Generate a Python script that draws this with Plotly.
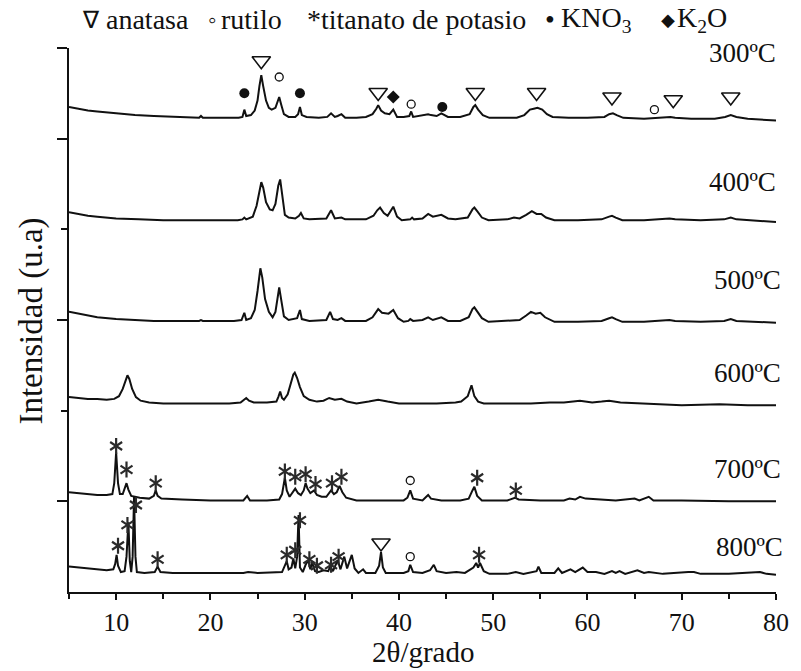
import plotly.graph_objects as go

# ---------------------------------------------------------------
# XRD patterns of the K-titanate samples calcined at 300-800 ºC
# Each pattern: (2θ in degrees, intensity above its own baseline, a.u.)
# ---------------------------------------------------------------
temperatures = ["300ºC", "400ºC", "500ºC", "600ºC", "700ºC", "800ºC"]
offsets = [520, 408, 297, 206, 100, 19]

pattern_300 = [
    (5.0, 15), (6.0, 13), (7.0, 11), (8.0, 10), (10.0, 8), (12.0, 6), (14.0, 5),
    (16.0, 4), (18.0, 3), (18.8, 3), (19.0, 5), (19.2, 3), (21.0, 3), (23.0, 3),
    (23.4, 4), (23.6, 12), (23.8, 5), (24.3, 6), (24.7, 11), (25.0, 22), (25.2, 38),
    (25.4, 50), (25.6, 38), (25.9, 22), (26.2, 14), (26.5, 12), (26.9, 14), (27.1, 19),
    (27.3, 26), (27.5, 18), (27.8, 7), (28.3, 4), (29.0, 4), (29.3, 7), (29.5, 15),
    (29.7, 6), (30.2, 4), (31.5, 3), (32.4, 4), (32.8, 8), (33.2, 4), (33.5, 5),
    (33.9, 7), (34.3, 3), (35.5, 3), (36.5, 4), (37.2, 7), (37.6, 13), (37.8, 17),
    (38.1, 11), (38.5, 8), (39.0, 7), (39.4, 12), (39.8, 4), (40.5, 4), (41.1, 5),
    (41.3, 10), (41.5, 4), (42.2, 5), (43.1, 7), (43.4, 6), (44.0, 5), (44.5, 8),
    (45.2, 4), (46.5, 4), (47.5, 7), (47.9, 15), (48.1, 17), (48.4, 12), (48.9, 6),
    (49.6, 3), (51.0, 3), (52.5, 3), (53.3, 6), (53.9, 12), (54.3, 13), (54.7, 14),
    (55.2, 12), (55.7, 7), (56.3, 4), (58.0, 3), (60.0, 3), (61.8, 4), (62.3, 7),
    (62.7, 8), (63.1, 6), (63.8, 3), (66.0, 2), (68.3, 3), (68.8, 4), (69.3, 3),
    (71.0, 2), (73.5, 2), (74.6, 4), (75.2, 6), (75.8, 4), (77.0, 2), (80.0, 0),
]

pattern_400 = [
    (5.0, 11), (6.0, 9), (7.0, 7), (8.0, 6), (10.0, 4), (12.4, 3), (15.0, 2),
    (20.0, 2), (22.9, 2), (23.4, 3), (23.6, 5), (23.8, 3), (24.5, 6), (24.9, 18),
    (25.2, 36), (25.4, 44), (25.6, 38), (25.9, 22), (26.3, 14), (26.6, 13), (26.9, 20),
    (27.2, 40), (27.4, 47), (27.6, 30), (27.9, 8), (28.3, 5), (29.0, 4), (29.4, 7),
    (29.6, 10), (29.9, 4), (30.5, 3), (32.3, 4), (32.8, 13), (33.2, 4), (33.9, 5),
    (34.3, 3), (36.5, 3), (37.3, 7), (37.7, 13), (38.0, 16), (38.4, 10), (38.8, 7),
    (39.2, 14), (39.4, 17), (39.8, 6), (40.3, 2), (41.2, 3), (41.4, 5), (41.6, 3),
    (42.5, 4), (43.1, 9), (43.6, 6), (44.5, 8), (45.2, 4), (46.0, 3), (47.3, 5),
    (47.8, 14), (48.0, 16), (48.3, 12), (48.8, 5), (49.5, 2), (51.5, 3), (52.2, 5),
    (52.8, 4), (53.5, 8), (54.1, 12), (54.6, 9), (55.1, 9), (55.6, 5), (56.5, 2),
    (59.0, 2), (61.5, 3), (62.3, 6), (62.6, 7), (63.0, 5), (63.7, 2), (66.0, 2),
    (68.2, 3), (68.7, 4), (69.3, 3), (72.0, 2), (74.5, 3), (75.2, 5), (75.8, 3),
    (77.5, 2), (80.0, 0),
]

pattern_500 = [
    (5.0, 12), (6.0, 10), (7.0, 8), (8.0, 6), (10.0, 4), (12.0, 3), (14.0, 2),
    (17.0, 2), (18.8, 2), (19.0, 3), (19.2, 2), (22.5, 2), (23.3, 3), (23.6, 11),
    (23.8, 3), (24.3, 5), (24.7, 14), (25.0, 35), (25.3, 60), (25.5, 50), (25.8, 26),
    (26.2, 12), (26.6, 6), (26.9, 12), (27.1, 28), (27.3, 39), (27.5, 26), (27.8, 7),
    (28.3, 3), (29.2, 5), (29.5, 14), (29.7, 4), (30.5, 2), (32.3, 3), (32.7, 12),
    (33.0, 4), (33.5, 3), (33.9, 5), (34.3, 2), (36.5, 2), (37.2, 6), (37.6, 12),
    (37.8, 15), (38.2, 11), (38.9, 10), (39.4, 14), (39.9, 5), (40.5, 1), (41.0, 2),
    (41.2, 4), (41.5, 2), (42.5, 3), (43.1, 6), (43.6, 3), (44.5, 6), (45.2, 2),
    (46.5, 2), (47.4, 6), (47.8, 15), (48.0, 17), (48.3, 13), (48.8, 5), (49.5, 1),
    (51.5, 2), (52.2, 3), (52.8, 3), (53.5, 8), (54.0, 12), (54.5, 10), (55.0, 11),
    (55.5, 6), (56.5, 1), (59.0, 1), (61.5, 2), (62.3, 5), (62.6, 6), (63.0, 4),
    (63.7, 1), (66.0, 1), (68.2, 2), (68.7, 3), (69.3, 2), (72.0, 1), (74.5, 2),
    (75.2, 4), (75.8, 2), (77.5, 1), (80.0, 0),
]

pattern_600 = [
    (5.0, 9), (6.0, 8), (7.0, 7), (8.0, 7), (9.0, 6), (9.8, 7), (10.3, 10),
    (10.7, 18), (11.0, 28), (11.2, 33), (11.4, 29), (11.7, 18), (12.1, 9), (12.6, 5),
    (13.5, 3), (15.0, 2), (18.0, 2), (20.0, 2), (22.0, 2), (23.2, 3), (23.6, 7),
    (23.8, 8), (24.1, 5), (24.6, 3), (26.0, 3), (27.0, 4), (27.2, 9), (27.4, 15),
    (27.6, 8), (27.8, 6), (28.2, 12), (28.5, 24), (28.8, 34), (28.95, 36), (29.2, 30),
    (29.5, 20), (29.9, 10), (30.5, 6), (31.3, 4), (32.0, 5), (32.6, 8), (33.2, 6),
    (33.9, 7), (34.5, 4), (35.5, 2), (36.8, 4), (37.8, 6), (38.8, 4), (40.0, 2),
    (42.0, 2), (44.0, 2), (46.0, 3), (46.6, 4), (47.3, 10), (47.7, 22), (48.0, 10),
    (48.4, 4), (49.0, 2), (51.0, 2), (54.0, 2), (56.0, 3), (57.5, 3), (59.2, 5),
    (60.5, 3), (61.5, 4), (62.3, 5), (63.5, 3), (66.0, 2), (70.0, 0), (74.0, 1),
    (77.0, 0), (80.0, 0),
]

pattern_700 = [
    (5.0, 10), (6.0, 9), (7.0, 8), (8.0, 7), (9.0, 7), (9.6, 8), (9.8, 20),
    (10.0, 54), (10.2, 20), (10.4, 8), (10.7, 8), (10.9, 14), (11.1, 20), (11.3, 13),
    (11.6, 6), (12.5, 4), (13.5, 3), (14.0, 6), (14.2, 12), (14.4, 6), (14.8, 3),
    (17.0, 2), (20.0, 1), (23.5, 1), (23.9, 6), (24.2, 1), (26.0, 1), (27.3, 2),
    (27.6, 8), (27.9, 26), (28.1, 12), (28.4, 5), (28.8, 12), (29.0, 14), (29.3, 9),
    (29.6, 7), (29.9, 12), (30.1, 20), (30.3, 14), (30.6, 9), (31.0, 12), (31.3, 7),
    (31.8, 5), (32.3, 5), (32.8, 12), (33.1, 8), (33.4, 10), (33.7, 17), (34.0, 10),
    (34.4, 4), (35.5, 1), (38.0, 1), (40.5, 1), (40.9, 4), (41.2, 12), (41.5, 3),
    (42.5, 1), (42.9, 5), (43.1, 7), (43.4, 3), (44.5, 1), (46.5, 1), (47.4, 3),
    (47.8, 12), (48.0, 16), (48.3, 6), (48.8, 1), (51.5, 1), (52.0, 3), (52.3, 4),
    (52.7, 2), (55.0, 1), (57.5, 1), (58.1, 3), (58.7, 2), (59.2, 5), (59.8, 3),
    (61.0, 2), (63.0, 1), (65.0, 3), (65.5, 1), (66.5, 5), (67.0, 1), (70.0, 1),
    (75.0, 0), (80.0, 0),
]

pattern_800 = [
    (5.0, 9), (6.0, 8), (7.0, 7), (7.5, 7), (8.0, 6), (9.0, 5), (9.7, 6),
    (9.9, 12), (10.05, 22), (10.2, 10), (10.5, 3), (10.9, 4), (11.1, 20), (11.3, 58),
    (11.45, 15), (11.6, 3), (11.75, 20), (11.9, 86), (12.05, 20), (12.2, 3), (13.0, 2),
    (14.1, 3), (14.4, 9), (14.7, 3), (16.0, 2), (20.0, 2), (23.5, 2), (24.0, 3),
    (25.0, 2), (27.6, 3), (27.9, 10), (28.1, 15), (28.3, 6), (28.6, 8), (28.8, 18),
    (29.0, 7), (29.2, 20), (29.35, 66), (29.5, 8), (29.8, 3), (30.1, 11), (30.4, 16),
    (30.6, 6), (30.8, 13), (31.1, 4), (31.5, 3), (32.0, 5), (32.5, 4), (32.7, 9),
    (33.0, 4), (33.5, 16), (33.8, 6), (34.2, 20), (34.5, 7), (35.0, 22), (35.3, 7),
    (35.7, 2), (36.2, 6), (36.5, 2), (37.5, 2), (37.9, 10), (38.1, 25), (38.3, 8),
    (38.6, 2), (40.5, 2), (41.0, 4), (41.2, 11), (41.5, 3), (42.5, 2), (43.3, 5),
    (43.7, 11), (44.0, 4), (45.0, 2), (46.1, 3), (47.0, 2), (47.9, 8), (48.2, 13),
    (48.4, 8), (48.6, 13), (49.0, 4), (49.6, 1), (51.5, 1), (52.4, 3), (53.2, 1),
    (54.6, 4), (54.8, 9), (55.1, 2), (56.5, 2), (56.9, 7), (57.3, 2), (58.2, 6),
    (58.7, 3), (59.5, 8), (60.0, 3), (60.9, 3), (61.8, 1), (62.6, 4), (63.0, 2),
    (63.4, 4), (64.0, 1), (65.3, 5), (66.0, 2), (66.5, 3), (68.0, 1), (70.7, 3),
    (71.3, 3), (72.0, 1), (75.0, 1), (78.3, 3), (79.0, 1), (80.0, 0),
]

patterns = [pattern_300, pattern_400, pattern_500, pattern_600, pattern_700, pattern_800]

# Phase identification marks: (2θ, phase, clearance above the peak in a.u.)
marks_300 = [
    (23.6, "KNO3", 18), (25.4, "anatasa", 16), (27.3, "rutilo", 22), (29.5, "KNO3", 15),
    (37.8, "anatasa", 14), (39.4, "K2O", 14), (41.3, "rutilo", 8), (44.6, "KNO3", 7),
    (48.1, "anatasa", 14), (54.6, "anatasa", 17), (62.6, "anatasa", 18),
    (67.1, "rutilo", 10), (69.1, "anatasa", 19), (75.2, "anatasa", 20),
]
marks_700 = [
    (10.0, "titanato", 7), (11.1, "titanato", 15), (14.2, "titanato", 8),
    (27.9, "titanato", 7), (29.0, "titanato", 13), (30.1, "titanato", 10),
    (31.15, "titanato", 7), (32.9, "titanato", 8), (33.9, "titanato", 10),
    (41.2, "rutilo", 11), (48.3, "titanato", 10), (52.4, "titanato", 8),
]
marks_800 = [
    (10.2, "titanato", 10), (11.2, "titanato", -3), (12.1, "titanato", -9),
    (14.4, "titanato", 8), (28.1, "titanato", 7), (29.0, "titanato", 7),
    (29.5, "titanato", -6), (30.5, "titanato", 1), (31.3, "titanato", 6),
    (32.8, "titanato", 2), (33.6, "titanato", 4), (38.1, "anatasa", 10),
    (41.2, "rutilo", 9), (48.5, "titanato", 9),
]
marks = {0: marks_300, 4: marks_700, 5: marks_800}

FONT = "Liberation Serif"
INK = "#111111"
STAR = "#2a2a2a"

# a six-armed asterisk is built from two overlaid "Y" symbols
marker_styles = {
    "anatasa": [dict(symbol="triangle-down-open", size=16, color=INK, line=dict(width=1.6, color=INK))],
    "rutilo": [dict(symbol="circle-open", size=8, color=INK, line=dict(width=1.3, color=INK))],
    "KNO3": [dict(symbol="circle", size=10, color=INK, line=dict(width=0))],
    "K2O": [dict(symbol="diamond", size=10, color=INK, line=dict(width=0))],
    "titanato": [
        dict(symbol="y-up-open", size=10, color=STAR, line=dict(width=2.2, color=STAR)),
        dict(symbol="y-down-open", size=10, color=STAR, line=dict(width=2.2, color=STAR)),
    ],
}


def peak_height(points, theta, window=0.35):
    """Highest intensity of a pattern within ±window degrees of theta."""
    near = [i for t, i in points if abs(t - theta) <= window]
    if near:
        return max(near)
    return min(points, key=lambda p: abs(p[0] - theta))[1]


fig = go.Figure()

for k, pts in enumerate(patterns):
    fig.add_trace(go.Scatter(
        x=[t for t, _ in pts],
        y=[i + offsets[k] for _, i in pts],
        mode="lines",
        line=dict(color=INK, width=2.0),
        name=temperatures[k],
        showlegend=False,
        hoverinfo="skip",
    ))

for k, mlist in marks.items():
    pts = patterns[k]
    by_phase = {}
    for theta, phase, gap in mlist:
        y = offsets[k] + peak_height(pts, theta) + gap
        by_phase.setdefault(phase, ([], []))
        by_phase[phase][0].append(theta)
        by_phase[phase][1].append(y)
    for phase, (xs, ys) in by_phase.items():
        for style in marker_styles[phase]:
            fig.add_trace(go.Scatter(
                x=xs, y=ys, mode="markers", marker=style,
                showlegend=False, hoverinfo="skip",
            ))


def px_to_paper(px, py):
    return (px - 69) / 717, (592 - py) / 544


# sample labels at the right of every pattern (right edge in pixels, centre line)
label_right_px = [788, 788, 793, 793, 793, 795]
label_mid_px = [53, 182, 280, 373, 469, 547]
for name, rx, my in zip(temperatures, label_right_px, label_mid_px):
    xp, yp = px_to_paper(rx, my)
    fig.add_annotation(x=xp, y=yp, xref="paper", yref="paper", text=name, showarrow=False,
                       xanchor="right", yanchor="middle",
                       font=dict(family=FONT, size=27, color=INK))

# phase key across the top: (x pixel, anchor, text, size)
key_items = [
    (91, "center", "∇", 24),
    (104, "left", "anatasa", 28),
    (215, "center", "◦", 24),
    (221, "left", "rutilo", 28),
    (308, "left", "*titanato de potasio", 28),
    (557, "center", "•", 28),
    (566, "left", "KNO<sub>3</sub>", 28),
    (676, "center", "◆", 18),
    (684, "left", "K<sub>2</sub>O", 28),
]
for px, anchor, txt, size in key_items:
    xp, yp = px_to_paper(px, 20)
    fig.add_annotation(x=xp, y=yp, xref="paper", yref="paper",
                       text=txt, showarrow=False, xanchor=anchor, yanchor="middle",
                       font=dict(family=FONT, size=size, color=INK))

xp, yp = px_to_paper(428, 652)
fig.add_annotation(x=xp, y=yp, xref="paper", yref="paper",
                   text="2θ/grado", showarrow=False, xanchor="center", yanchor="middle",
                   font=dict(family=FONT, size=29, color=INK))
xp, yp = px_to_paper(30, 321)
fig.add_annotation(x=xp, y=yp, xref="paper", yref="paper",
                   text="Intensidad (u.a)", textangle=-90, showarrow=False,
                   xanchor="center", yanchor="middle",
                   font=dict(family=FONT, size=33, color=INK))

fig.update_layout(
    width=801, height=671,
    margin=dict(l=69, r=15, t=48, b=79),
    paper_bgcolor="white", plot_bgcolor="white",
    xaxis=dict(
        range=[5, 80], tickmode="array", tickvals=list(range(10, 81, 10)),
        ticks="outside", ticklen=6, tickwidth=2, tickcolor=INK,
        showline=True, linewidth=2, linecolor=INK, showgrid=False, zeroline=False,
        tickfont=dict(family=FONT, size=26, color=INK),
        minor=dict(tickmode="array", tickvals=list(range(5, 80, 10)), ticks="outside",
                   ticklen=5, tickwidth=2, tickcolor=INK),
    ),
    yaxis=dict(
        range=[0, 600], tickmode="array", tickvals=[100, 300, 500, 600],
        ticks="outside", ticklen=10, tickwidth=2, tickcolor=INK, showticklabels=False,
        showline=True, linewidth=2, linecolor=INK, showgrid=False, zeroline=False,
        minor=dict(tickmode="array", tickvals=[200, 400], ticks="outside",
                   ticklen=6, tickwidth=2, tickcolor=INK),
    ),
)

fig.write_html("out.html")
